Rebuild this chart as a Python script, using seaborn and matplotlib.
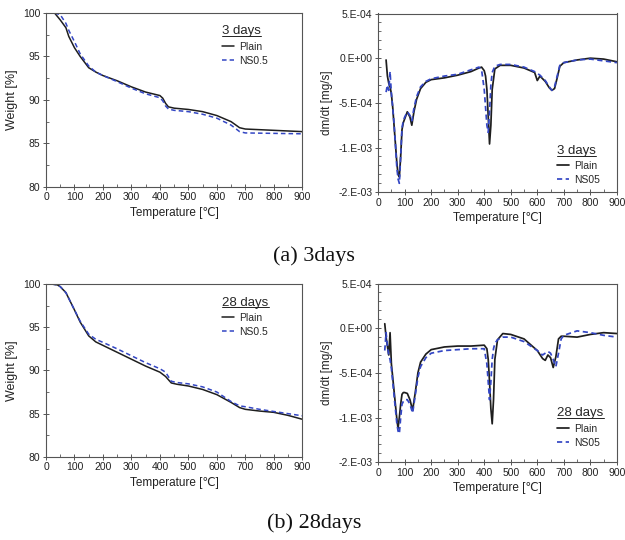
import matplotlib
matplotlib.use("Agg")
import matplotlib.pyplot as plt
from matplotlib.lines import Line2D
import seaborn as sns
import numpy as np
import pandas as pd

# ---------------- data ----------------
# TG curves (weight %)
t3_tg = [30, 50, 70, 80, 100, 120, 150, 175, 200, 250, 300, 350, 400, 410, 420, 430, 450, 500, 550, 600, 650, 680, 700, 800, 900]
plain3_tg = [100, 99.2, 98.3, 97.3, 96.0, 95.0, 93.7, 93.2, 92.8, 92.2, 91.5, 90.9, 90.5, 90.2, 89.6, 89.2, 89.05, 88.9, 88.65, 88.2, 87.5, 86.8, 86.65, 86.5, 86.35]
ns3_tg = [100, 99.8, 98.8, 98.0, 96.7, 95.3, 93.9, 93.2, 92.8, 92.1, 91.35, 90.7, 90.25, 89.9, 89.3, 88.95, 88.8, 88.65, 88.35, 87.9, 87.1, 86.35, 86.2, 86.15, 86.1]

t28_tg = [20, 40, 50, 70, 100, 120, 150, 175, 200, 250, 300, 350, 400, 420, 440, 460, 500, 550, 600, 650, 680, 700, 750, 800, 850, 900]
plain28_tg = [100, 99.9, 99.7, 99.0, 97.0, 95.6, 94.0, 93.3, 92.9, 92.1, 91.3, 90.5, 89.8, 89.3, 88.55, 88.4, 88.2, 87.8, 87.2, 86.3, 85.7, 85.5, 85.3, 85.15, 84.8, 84.35]
ns28_tg = [100, 99.9, 99.7, 99.0, 97.0, 95.7, 94.2, 93.6, 93.25, 92.5, 91.7, 90.9, 90.2, 89.8, 88.75, 88.6, 88.45, 88.1, 87.5, 86.4, 85.9, 85.8, 85.5, 85.25, 85.0, 84.75]

# DTG curves (units of 1e-4 mg/s)
t3_dtg = [30, 35, 40, 45, 50, 55, 60, 65, 70, 75, 80, 85, 90, 95, 100, 110, 120, 127, 135, 145,
          160, 180, 200, 250, 300, 350, 380, 390, 400, 405, 410, 415, 420, 425, 430, 440, 460, 500,
          550, 590, 600, 610, 630, 645, 655, 665, 675, 685, 700, 750, 800, 850, 900]
plain3_dtg = [-0.2, -2.0, -2.8, -3.2, -4.0, -5.5, -7.5, -9.5, -11.5, -13.0, -13.3, -11.0, -8.0, -7.2, -6.8,
              -6.0, -6.6, -7.5, -6.0, -4.6, -3.4, -2.7, -2.4, -2.2, -1.9, -1.5, -1.1, -1.0, -1.4, -2.0,
              -3.5, -6.5, -9.6, -7.5, -3.5, -1.2, -0.8, -0.8, -1.1, -1.6, -2.5, -2.0, -2.6, -3.3, -3.6,
              -3.4, -2.2, -0.9, -0.5, -0.2, 0.0, -0.1, -0.4]
ns3_dtg = [-3.8, -3.0, -3.6, -1.5, -4.0, -5.5, -7.3, -9.5, -12.0, -13.5, -14.0, -11.0, -7.8, -7.0, -6.6,
           -6.0, -6.4, -7.0, -5.6, -4.3, -3.2, -2.6, -2.3, -2.0, -1.8, -1.3, -1.0, -1.3, -3.5, -5.5,
           -7.5, -8.3, -6.0, -3.0, -1.6, -0.9, -0.7, -0.7, -1.0, -1.5, -1.7, -1.9, -2.5, -3.2, -3.6,
           -3.2, -2.0, -0.8, -0.5, -0.2, -0.1, -0.3, -0.5]

t28_dtg = [25, 30, 35, 40, 45, 50, 55, 60, 65, 70, 75, 80, 85, 90, 95, 100, 110, 120, 130, 140,
           150, 160, 180, 200, 250, 300, 350, 400, 410, 415, 420, 425, 430, 435, 440, 450, 470, 500,
           550, 600, 620, 630, 640, 650, 660, 670, 680, 690, 700, 750, 800, 850, 900]
plain28_dtg = [0.5, -1.0, -2.0, -3.0, -0.5, -4.0, -5.5, -7.0, -8.5, -10.0, -11.2, -10.0, -8.5, -7.4, -7.2,
               -7.2, -7.3, -8.0, -9.2, -7.2, -5.0, -3.8, -2.9, -2.4, -2.1, -2.0, -2.0, -1.9, -2.3, -3.5,
               -6.0, -9.0, -10.7, -8.0, -3.5, -1.3, -0.6, -0.7, -1.2, -2.5, -3.4, -3.6, -3.0, -3.3, -4.4,
               -3.2, -1.2, -0.9, -0.9, -1.0, -0.7, -0.5, -0.6]
ns28_dtg = [-2.5, -0.5, -2.0, -3.0, -3.5, -4.5, -6.0, -7.5, -9.0, -10.5, -11.5, -11.8, -10.0, -8.5, -8.2,
            -8.0, -8.0, -8.5, -9.5, -7.5, -5.5, -4.3, -3.3, -2.8, -2.5, -2.4, -2.3, -2.3, -4.0, -6.0,
            -8.0, -6.0, -3.5, -2.3, -1.7, -1.3, -1.0, -1.0, -1.5, -2.5, -3.0, -2.8, -2.6, -2.8, -3.5,
            -4.3, -2.8, -1.2, -0.8, -0.3, -0.5, -0.8, -1.0]

x_ticks = [0, 100, 200, 300, 400, 500, 600, 700, 800, 900]
tg_ticks = [80, 85, 90, 95, 100]
dtg_ticks = [5e-4, 0.0, -5e-4, -1e-3, -1.5e-3]
dtg_labels = ["5.E-04", "0.E+00", "-5.E-04", "-1.E-03", "-2.E-03"]
captions = ["(a) 3days", "(b) 28days"]
panel_titles = ["3 days", "28 days"]

# ---------------- style ----------------
sns.set_theme(style="ticks")
plt.rcParams['font.family'] = ['Liberation Sans', 'DejaVu Sans']

BLACK = "#1e1e1e"
BLUE = "#3346c4"
SPINE = "#555555"

fig = plt.figure(figsize=(6.25, 5.4), dpi=100)
legends = []

def style_axes(ax):
    for s in ax.spines.values():
        s.set_color(SPINE)
        s.set_linewidth(0.8)
    ax.tick_params(which='major', direction='inout', length=4, width=0.7, colors=SPINE,
                   labelsize=7.5, labelcolor='#222222', top=False, right=False, pad=2)
    ax.tick_params(which='minor', direction='in', length=2.2, width=0.6, colors=SPINE,
                   top=False, right=False)
    ax.set_xlim(0, 900)
    ax.set_xticks(x_ticks)
    ax.set_xticks(np.arange(0, 901, 50), minor=True)
    ax.set_xlabel("Temperature [℃]", fontsize=8.5, color='#222222', labelpad=3)

def add_legend(ax, title, **kw):
    leg = ax.legend(title=title, frameon=False, fontsize=7.5, title_fontsize=9.5, handlelength=1.1,
                    handletextpad=0.5, labelspacing=0.4, borderpad=0.2,
                    alignment='left', **kw)
    legends.append(leg)
    return leg

def tg_panel(rect, t, p, n, title):
    ax = fig.add_axes(rect)
    sns.lineplot(x=t, y=p, ax=ax, color=BLACK, lw=1.1, label="Plain", estimator=None, sort=False)
    sns.lineplot(x=t, y=n, ax=ax, color=BLUE, lw=1.1, label="NS0.5", estimator=None, sort=False)
    ax.lines[1].set_dashes((3, 2))
    style_axes(ax)
    ax.set_ylim(80, 100)
    ax.set_yticks(tg_ticks)
    ax.set_yticks(np.arange(80, 100.1, 2.5), minor=True)
    ax.set_ylabel("Weight [%]", fontsize=9, color='#222222', labelpad=4)
    add_legend(ax, title, loc='upper left', bbox_to_anchor=(0.66, 0.97))
    return ax

def dtg_panel(rect, t, p, n, title, anchor):
    ax = fig.add_axes(rect)
    sns.lineplot(x=t, y=np.array(p) * 1e-4, ax=ax, color=BLACK, lw=1.25, label="Plain",
                 estimator=None, sort=False)
    sns.lineplot(x=t, y=np.array(n) * 1e-4, ax=ax, color=BLUE, lw=1.25, label="NS05",
                 estimator=None, sort=False)
    ax.lines[1].set_dashes((3, 2))
    style_axes(ax)
    ax.set_ylim(-1.5e-3, 5e-4)
    ax.set_yticks(dtg_ticks)
    ax.set_yticklabels(dtg_labels)
    ax.set_yticks(np.arange(-1.5e-3, 5.01e-4, 1e-4), minor=True)
    ax.set_ylabel("dm/dt [mg/s]", fontsize=8.5, color='#222222', labelpad=4)
    add_legend(ax, title, loc='lower left', bbox_to_anchor=anchor)
    return ax

tg_panel([0.0736, 0.654, 0.41, 0.322], t3_tg, plain3_tg, ns3_tg, panel_titles[0])
dtg_panel([0.605, 0.644, 0.382, 0.331], t3_dtg, plain3_dtg, ns3_dtg, panel_titles[0], (0.72, 0.0))
tg_panel([0.0736, 0.154, 0.41, 0.320], t28_tg, plain28_tg, ns28_tg, panel_titles[1])
dtg_panel([0.605, 0.144, 0.382, 0.331], t28_dtg, plain28_dtg, ns28_dtg, panel_titles[1], (0.72, 0.04))

fig.text(0.503, 0.525, captions[0], ha='center', va='center', fontsize=16,
         family=['Liberation Serif', 'DejaVu Serif'], color='#111111')
fig.text(0.503, 0.031, captions[1], ha='center', va='center', fontsize=16,
         family=['Liberation Serif', 'DejaVu Serif'], color='#111111')

# underline the legend titles
fig.canvas.draw()
inv = fig.transFigure.inverted()
for leg in legends:
    bb = leg.get_title().get_window_extent(fig.canvas.get_renderer())
    (x0, y0), (x1, y1) = inv.transform([[bb.x0, bb.y0], [bb.x1, bb.y0]])
    fig.add_artist(Line2D([x0, x1], [y0 + 0.002, y0 + 0.002], transform=fig.transFigure,
                          color='#222222', lw=0.7))

fig.savefig("out.png", dpi=100)
